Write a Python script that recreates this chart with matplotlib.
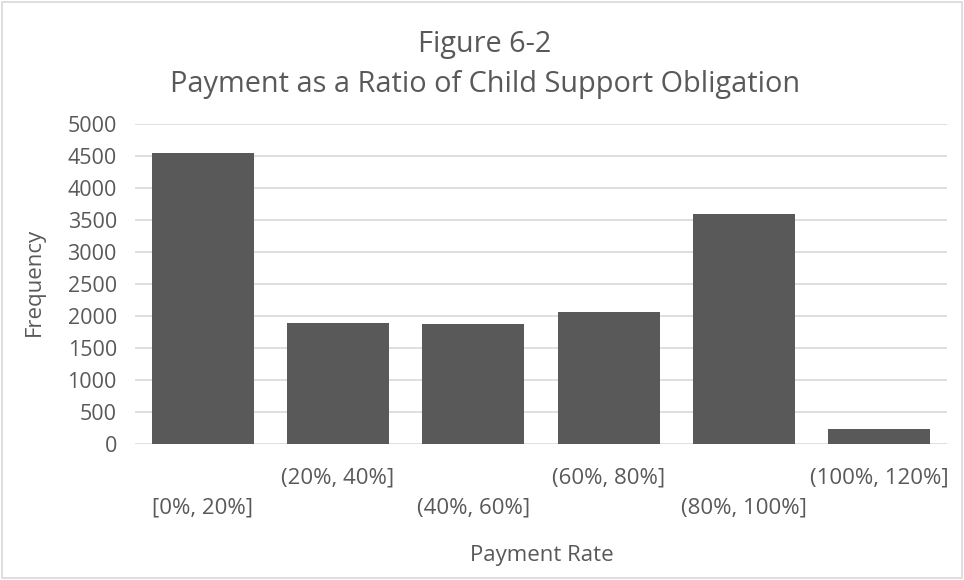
import matplotlib
matplotlib.use("Agg")
import matplotlib.pyplot as plt
from matplotlib.patches import Rectangle

# histogram bins and counts
bins = ["[0%, 20%]", "(20%, 40%]", "(40%, 60%]", "(60%, 80%]", "(80%, 100%]", "(100%, 120%]"]
counts = [4550, 1890, 1875, 2060, 3595, 235]
yticks = [0, 500, 1000, 1500, 2000, 2500, 3000, 3500, 4000, 4500, 5000]

text_col = "#595959"
grid_col = "#d9d9d9"
bar_col = "#595959"

plt.rcParams["font.family"] = ["Open Sans", "DejaVu Sans"]

fig = plt.figure(figsize=(9.64, 5.8), dpi=100)
fig.patches.append(Rectangle((0.002, 0.003), 0.996, 0.994, transform=fig.transFigure,
                             fill=False, edgecolor=grid_col, linewidth=1.2))

ax = fig.add_axes([0.140, 0.2345, 0.8423, 0.5515])
x = list(range(len(bins)))
ax.bar(x, counts, width=0.754, color=bar_col, zorder=3)
ax.set_xlim(-0.5, len(bins) - 0.5)
ax.set_ylim(0, 5000)
ax.set_yticks(yticks)
ax.set_yticklabels([str(v) for v in yticks])
ax.grid(axis="y", color=grid_col, linewidth=1.2, zorder=0)
for s in ax.spines.values():
    s.set_visible(False)
ax.tick_params(axis="y", length=0, labelsize=15.5, labelcolor=text_col, pad=13)
ax.tick_params(axis="x", length=0, labelbottom=False)

# staggered category labels, like Excel does when they don't fit
for i, lab in enumerate(bins):
    off = -34 if i % 2 == 1 else -64
    ax.annotate(lab, xy=(i, 0), xycoords=("data", "axes fraction"),
                xytext=(0, off), textcoords="offset pixels",
                ha="center", va="center", fontsize=16, color=text_col)

fig.text(0.5617, 0.043, "Payment Rate", ha="center", va="center", fontsize=16, color=text_col)
fig.text(0.036, 0.514, "Frequency", ha="center", va="center", rotation=90, fontsize=16, color=text_col)

fig.text(0.503, 0.911, "Figure 6-2", ha="center", va="baseline", fontsize=20.8, color=text_col)
fig.text(0.503, 0.842, "Payment as a Ratio of Child Support Obligation", ha="center",
         va="baseline", fontsize=20.8, color=text_col)

fig.savefig("out.png", dpi=100)
